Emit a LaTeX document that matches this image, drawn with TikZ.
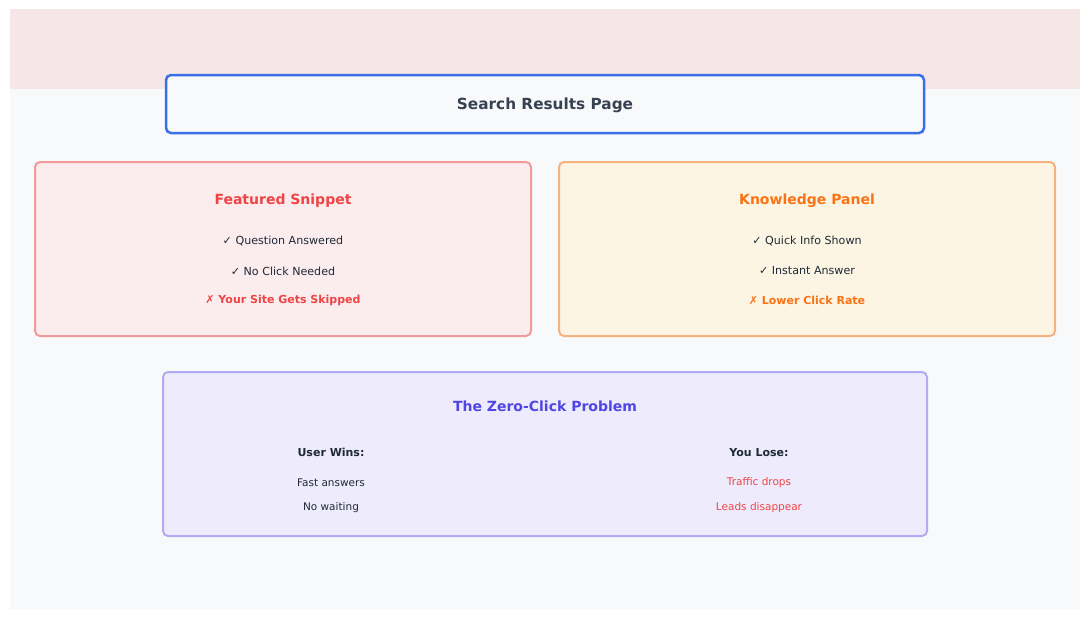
\documentclass[tikz,border=0pt]{standalone}
\usepackage{fontspec}
\setmainfont{DejaVu Sans}
\definecolor{bgc}{HTML}{F8F9FB}
\definecolor{bandc}{HTML}{F6E6E8}
\definecolor{bluec}{HTML}{3B6FE8}
\definecolor{titlec}{HTML}{374151}
\definecolor{darkc}{HTML}{1F2937}
\definecolor{redc}{HTML}{EF4444}
\definecolor{redfill}{HTML}{FBECEE}
\definecolor{redbord}{HTML}{F19A9C}
\definecolor{orc}{HTML}{F97316}
\definecolor{orfill}{HTML}{FCF5E3}
\definecolor{orbord}{HTML}{F5B27F}
\definecolor{puc}{HTML}{4F46E5}
\definecolor{pufill}{HTML}{EEEBFC}
\definecolor{pubord}{HTML}{B2AAF3}
\tikzset{
  panel/.style={rounded corners=5pt, line width=2pt},
  ttl/.style={font=\bfseries\fontsize{14}{16}\selectfont},
  item/.style={font=\fontsize{11.1}{13}\selectfont, text=darkc},
  itemb/.style={font=\bfseries\fontsize{11}{13}\selectfont},
  small/.style={font=\fontsize{10.5}{12}\selectfont},
  smallb/.style={font=\bfseries\fontsize{11}{13}\selectfont, text=darkc},
}
\begin{document}
\begin{tikzpicture}[x=1pt,y=-1pt]
\useasboundingbox (0,0) rectangle (1090,619);
\fill[white] (0,0) rectangle (1090,619);
\fill[bgc] (10,9) rectangle (1080,609);
\fill[bandc] (10,9) rectangle (1080,89);
% title
\draw[panel, draw=bluec, fill=bgc, line width=2.5pt] (166,75) rectangle (924,133);
\node[font=\bfseries\fontsize{15.3}{18}\selectfont, text=titlec] (title) at (545,105) {Search Results Page};
% featured
\draw[panel, draw=redbord, fill=redfill] (35,162) rectangle (531,336);
\node[ttl, text=redc] (fs) at (283,201) {Featured Snippet};
\node[item] (fs1) at (283,241) {✓ Question Answered};
\node[item] (fs2) at (283,271) {✓ No Click Needed};
\node[itemb, text=redc] (fs3) at (283,300.5) {✗ Your Site Gets Skipped};
% knowledge
\draw[panel, draw=orbord, fill=orfill] (559,162) rectangle (1055,336);
\node[ttl, text=orc] (kp) at (807,201) {Knowledge Panel};
\node[item] (kp1) at (807,241) {✓ Quick Info Shown};
\node[item] (kp2) at (807,271) {✓ Instant Answer};
\node[itemb, text=orc] (kp3) at (807,300.5) {✗ Lower Click Rate};
% zero click
\draw[panel, draw=pubord, fill=pufill] (163,372) rectangle (927,536);
\node[ttl, text=puc] (zc) at (545,406) {The Zero-Click Problem};
\node[smallb] (uw) at (331,452.5) {User Wins:};
\node[small, text=darkc] (uw1) at (331,482.5) {Fast answers};
\node[small, text=darkc] (uw2) at (331,507.5) {No waiting};
\node[smallb] (yl) at (759,452.5) {You Lose:};
\node[small, text=redc] (yl1) at (759,482.5) {Traffic drops};
\node[small, text=redc] (yl2) at (759,507.5) {Leads disappear};
\end{tikzpicture}
\end{document}
